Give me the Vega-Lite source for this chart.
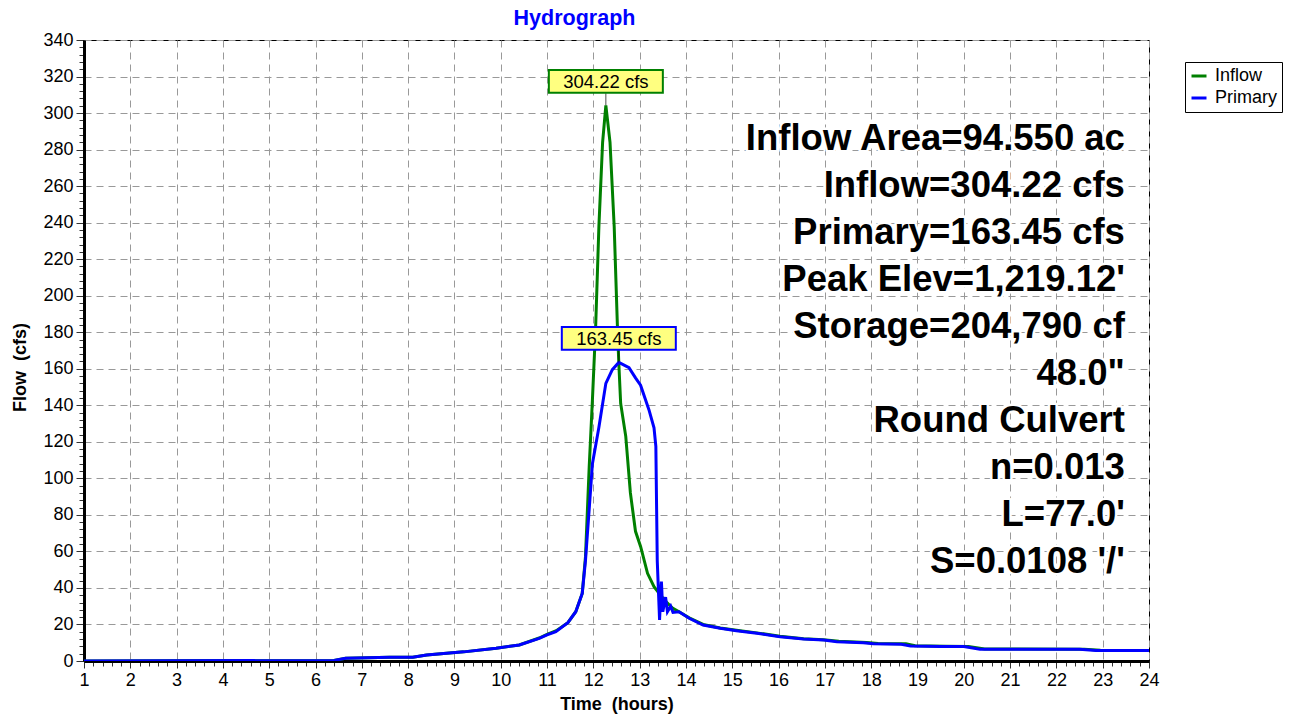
{
  "$schema": "https://vega.github.io/schema/vega-lite/v6.json",
  "width": 1065,
  "height": 621,
  "autosize": {"type": "none"},
  "padding": {"left": 84, "top": 40, "right": 145, "bottom": 58},
  "background": "white",
  "title": {"text": "Hydrograph", "color": "#0000ff", "fontSize": 21.5, "font": "Liberation Sans", "fontWeight": "bold", "anchor": "middle", "frame": "group", "dx": -42, "offset": 2},
  "config": {
    "view": {"stroke": "black", "strokeWidth": 1},
    "axis": {"labelFont": "Liberation Sans", "labelFontSize": 18, "labelColor": "black", "titleFont": "Liberation Sans", "titleFontSize": 18, "titleFontWeight": "bold", "titleColor": "black", "domainColor": "black", "domainWidth": 3, "tickColor": "#333", "tickWidth": 1, "gridColor": "#999", "gridDash": [7, 5], "gridWidth": 1, "tickCount": 1000}
  },
  "datasets": {
    "flows": [
      {"series": "Inflow", "time": 1, "flow": 0},
      {"series": "Inflow", "time": 6.4, "flow": 0.3},
      {"series": "Inflow", "time": 6.65, "flow": 1.5},
      {"series": "Inflow", "time": 7.6, "flow": 2},
      {"series": "Inflow", "time": 8.1, "flow": 2},
      {"series": "Inflow", "time": 8.4, "flow": 3.3},
      {"series": "Inflow", "time": 9.2, "flow": 5},
      {"series": "Inflow", "time": 9.9, "flow": 7},
      {"series": "Inflow", "time": 10.4, "flow": 8.8},
      {"series": "Inflow", "time": 10.83, "flow": 12.6},
      {"series": "Inflow", "time": 11.0, "flow": 14.6},
      {"series": "Inflow", "time": 11.2, "flow": 16.6},
      {"series": "Inflow", "time": 11.45, "flow": 21},
      {"series": "Inflow", "time": 11.62, "flow": 27},
      {"series": "Inflow", "time": 11.76, "flow": 37},
      {"series": "Inflow", "time": 11.83, "flow": 57},
      {"series": "Inflow", "time": 11.91, "flow": 106},
      {"series": "Inflow", "time": 11.98, "flow": 143},
      {"series": "Inflow", "time": 12.05, "flow": 183},
      {"series": "Inflow", "time": 12.12, "flow": 238},
      {"series": "Inflow", "time": 12.2, "flow": 284},
      {"series": "Inflow", "time": 12.27, "flow": 304.22},
      {"series": "Inflow", "time": 12.36, "flow": 284},
      {"series": "Inflow", "time": 12.45, "flow": 238},
      {"series": "Inflow", "time": 12.52, "flow": 183},
      {"series": "Inflow", "time": 12.55, "flow": 163},
      {"series": "Inflow", "time": 12.59, "flow": 141},
      {"series": "Inflow", "time": 12.7, "flow": 123},
      {"series": "Inflow", "time": 12.8, "flow": 92},
      {"series": "Inflow", "time": 12.91, "flow": 71},
      {"series": "Inflow", "time": 13.02, "flow": 62.7},
      {"series": "Inflow", "time": 13.17, "flow": 48},
      {"series": "Inflow", "time": 13.31, "flow": 40.7},
      {"series": "Inflow", "time": 13.42, "flow": 37},
      {"series": "Inflow", "time": 13.55, "flow": 33},
      {"series": "Inflow", "time": 13.71, "flow": 29},
      {"series": "Inflow", "time": 13.85, "flow": 27},
      {"series": "Inflow", "time": 14.07, "flow": 23.6},
      {"series": "Inflow", "time": 14.37, "flow": 20},
      {"series": "Inflow", "time": 14.74, "flow": 18.1},
      {"series": "Inflow", "time": 15.09, "flow": 16.8},
      {"series": "Inflow", "time": 15.53, "flow": 15.4},
      {"series": "Inflow", "time": 16.03, "flow": 13.6},
      {"series": "Inflow", "time": 16.54, "flow": 12.2},
      {"series": "Inflow", "time": 16.97, "flow": 11.7},
      {"series": "Inflow", "time": 17.3, "flow": 10.8},
      {"series": "Inflow", "time": 17.9, "flow": 10.1},
      {"series": "Inflow", "time": 18.15, "flow": 9.6},
      {"series": "Inflow", "time": 18.75, "flow": 9.4},
      {"series": "Inflow", "time": 18.95, "flow": 8.4},
      {"series": "Inflow", "time": 19.6, "flow": 8.1},
      {"series": "Inflow", "time": 20.1, "flow": 8.0},
      {"series": "Inflow", "time": 20.45, "flow": 6.6},
      {"series": "Inflow", "time": 22.6, "flow": 6.5},
      {"series": "Inflow", "time": 22.95, "flow": 5.9},
      {"series": "Inflow", "time": 24, "flow": 5.8},
      {"series": "Primary", "time": 1, "flow": 0},
      {"series": "Primary", "time": 6.4, "flow": 0.3},
      {"series": "Primary", "time": 6.65, "flow": 1.5},
      {"series": "Primary", "time": 7.6, "flow": 2},
      {"series": "Primary", "time": 8.1, "flow": 2},
      {"series": "Primary", "time": 8.4, "flow": 3.3},
      {"series": "Primary", "time": 9.2, "flow": 5},
      {"series": "Primary", "time": 9.9, "flow": 7},
      {"series": "Primary", "time": 10.4, "flow": 8.8},
      {"series": "Primary", "time": 10.83, "flow": 12.4},
      {"series": "Primary", "time": 11.0, "flow": 14.3},
      {"series": "Primary", "time": 11.19, "flow": 16.1},
      {"series": "Primary", "time": 11.45, "flow": 21},
      {"series": "Primary", "time": 11.62, "flow": 27},
      {"series": "Primary", "time": 11.76, "flow": 37},
      {"series": "Primary", "time": 11.83, "flow": 55},
      {"series": "Primary", "time": 11.91, "flow": 83},
      {"series": "Primary", "time": 11.98, "flow": 108},
      {"series": "Primary", "time": 12.12, "flow": 128},
      {"series": "Primary", "time": 12.27, "flow": 152},
      {"series": "Primary", "time": 12.41, "flow": 159.5},
      {"series": "Primary", "time": 12.55, "flow": 163.45},
      {"series": "Primary", "time": 12.77, "flow": 160.6},
      {"series": "Primary", "time": 12.91, "flow": 155},
      {"series": "Primary", "time": 13.02, "flow": 151},
      {"series": "Primary", "time": 13.2, "flow": 137.6},
      {"series": "Primary", "time": 13.31, "flow": 127.7},
      {"series": "Primary", "time": 13.35, "flow": 117.5},
      {"series": "Primary", "time": 13.38, "flow": 55},
      {"series": "Primary", "time": 13.43, "flow": 22.5},
      {"series": "Primary", "time": 13.47, "flow": 43.5},
      {"series": "Primary", "time": 13.5, "flow": 27},
      {"series": "Primary", "time": 13.56, "flow": 35},
      {"series": "Primary", "time": 13.6, "flow": 27},
      {"series": "Primary", "time": 13.67, "flow": 30},
      {"series": "Primary", "time": 13.72, "flow": 26.6},
      {"series": "Primary", "time": 13.85, "flow": 27},
      {"series": "Primary", "time": 14.07, "flow": 23.4},
      {"series": "Primary", "time": 14.37, "flow": 19.7},
      {"series": "Primary", "time": 14.74, "flow": 17.9},
      {"series": "Primary", "time": 15.09, "flow": 16.6},
      {"series": "Primary", "time": 15.53, "flow": 15.2},
      {"series": "Primary", "time": 16.03, "flow": 13.3},
      {"series": "Primary", "time": 16.54, "flow": 12},
      {"series": "Primary", "time": 16.97, "flow": 11.5},
      {"series": "Primary", "time": 17.26, "flow": 10.6},
      {"series": "Primary", "time": 17.83, "flow": 10},
      {"series": "Primary", "time": 18.05, "flow": 9.4},
      {"series": "Primary", "time": 18.65, "flow": 9.2},
      {"series": "Primary", "time": 18.85, "flow": 8.2},
      {"series": "Primary", "time": 19.5, "flow": 8},
      {"series": "Primary", "time": 20.0, "flow": 7.9},
      {"series": "Primary", "time": 20.35, "flow": 6.4},
      {"series": "Primary", "time": 22.5, "flow": 6.4},
      {"series": "Primary", "time": 22.85, "flow": 5.8},
      {"series": "Primary", "time": 24, "flow": 5.8}
    ],
    "peaks": [
      {"series": "Inflow", "time": 12.27, "flow": 304.22, "label": "304.22 cfs"},
      {"series": "Primary", "time": 12.55, "flow": 163.45, "label": "163.45 cfs"}
    ]
  },
  "layer": [
    {
      "data": {"name": "flows"},
      "mark": {"type": "line", "strokeWidth": 3, "clip": true},
      "encoding": {
        "x": {
          "field": "time", "type": "quantitative",
          "scale": {"domain": [1, 24], "nice": false, "zero": false},
          "axis": {
            "title": "Time\u00a0 (hours)",
            "titlePadding": 6,
            "tickCount": 1000,
            "values": [1,1.2,1.4,1.6,1.8,2,2.2,2.4,2.6,2.8,3,3.2,3.4,3.6,3.8,4,4.2,4.4,4.6,4.8,5,5.2,5.4,5.6,5.8,6,6.2,6.4,6.6,6.8,7,7.2,7.4,7.6,7.8,8,8.2,8.4,8.6,8.8,9,9.2,9.4,9.6,9.8,10,10.2,10.4,10.6,10.8,11,11.2,11.4,11.6,11.8,12,12.2,12.4,12.6,12.8,13,13.2,13.4,13.6,13.8,14,14.2,14.4,14.6,14.8,15,15.2,15.4,15.6,15.8,16,16.2,16.4,16.6,16.8,17,17.2,17.4,17.6,17.8,18,18.2,18.4,18.6,18.8,19,19.2,19.4,19.6,19.8,20,20.2,20.4,20.6,20.8,21,21.2,21.4,21.6,21.8,22,22.2,22.4,22.6,22.8,23,23.2,23.4,23.6,23.8,24],
            "labelExpr": "abs(datum.value - round(datum.value)) < 0.01 ? '' + round(datum.value) : ''",
            "labelOverlap": false,
            "labelBound": false,
            "labelFlush": false,
            "labelPadding": 3,
            "tickSize": {"condition": {"test": "abs(datum.value - round(datum.value)) < 0.01", "value": 7}, "value": 5},
            "gridOpacity": {"condition": {"test": "abs(datum.value - round(datum.value)) < 0.01", "value": 1}, "value": 0}
          }
        },
        "y": {
          "field": "flow", "type": "quantitative",
          "scale": {"domain": [0, 340], "nice": false},
          "axis": {
            "title": "Flow\u00a0 (cfs)",
            "titlePadding": 13,
            "titleY": 327,
            "tickCount": 1000,
            "values": [0,4,8,12,16,20,24,28,32,36,40,44,48,52,56,60,64,68,72,76,80,84,88,92,96,100,104,108,112,116,120,124,128,132,136,140,144,148,152,156,160,164,168,172,176,180,184,188,192,196,200,204,208,212,216,220,224,228,232,236,240,244,248,252,256,260,264,268,272,276,280,284,288,292,296,300,304,308,312,316,320,324,328,332,336,340],
            "labelExpr": "datum.value % 20 === 0 ? '' + datum.value : ''",
            "labelOverlap": false,
            "labelBound": false,
            "labelFlush": false,
            "labelPadding": 3,
            "tickSize": {"condition": {"test": "datum.value % 20 === 0", "value": 8}, "value": 5},
            "gridOpacity": {"condition": {"test": "datum.value % 20 === 0", "value": 1}, "value": 0}
          }
        },
        "color": {
          "field": "series", "type": "nominal",
          "scale": {"domain": ["Inflow", "Primary"], "range": ["#008000", "#0000ff"]},
          "legend": {"orient": "none", "legendX": 1101, "legendY": 22, "title": null, "symbolType": "stroke", "symbolStrokeWidth": 3, "symbolSize": 225, "labelFont": "Liberation Sans", "labelFontSize": 18, "labelColor": "black", "strokeColor": "black", "fillColor": "white", "padding": 5, "rowPadding": 4, "labelOffset": 7}
        }
      }
    },
    {
      "data": {"name": "peaks"},
      "mark": {"type": "tick", "orient": "vertical", "size": 12, "thickness": 1, "color": "black", "yOffset": -6},
      "encoding": {
        "x": {"field": "time", "type": "quantitative"},
        "y": {"field": "flow", "type": "quantitative"}
      }
    },
    {
      "data": {"name": "peaks"},
      "mark": {"type": "point", "shape": "M-1,-0.2L1,-0.2L1,0.2L-1,0.2Z", "size": 12996, "filled": true, "fill": "#ffff80", "fillOpacity": 1, "opacity": 1, "strokeWidth": 2, "strokeOpacity": 1, "yOffset": -24},
      "encoding": {
        "x": {"field": "time", "type": "quantitative"},
        "y": {"field": "flow", "type": "quantitative"},
        "stroke": {"field": "series", "type": "nominal", "scale": {"domain": ["Inflow", "Primary"], "range": ["#008000", "#0000ff"]}, "legend": null}
      }
    },
    {
      "data": {"name": "peaks"},
      "mark": {"type": "text", "font": "Liberation Sans", "fontSize": 18.5, "color": "black", "align": "center", "baseline": "middle", "yOffset": -23},
      "encoding": {
        "x": {"field": "time", "type": "quantitative"},
        "y": {"field": "flow", "type": "quantitative"},
        "text": {"field": "label"}
      }
    },
    {
      "data": {"values": [{}]},
      "mark": {"type": "text", "font": "Liberation Sans", "fontSize": 36.5, "fontWeight": "bold", "align": "right", "baseline": "alphabetic", "lineHeight": 47, "fill": "white", "stroke": "white", "strokeWidth": 5, "strokeJoin": "round",
        "text": ["Inflow Area=94.550 ac", "Inflow=304.22 cfs", "Primary=163.45 cfs", "Peak Elev=1,219.12'", "Storage=204,790 cf", "48.0\"", "Round Culvert", "n=0.013", "L=77.0'", "S=0.0108 '/'"]},
      "encoding": {
        "x": {"datum": 23.48, "type": "quantitative"},
        "y": {"datum": 279.8, "type": "quantitative"}
      }
    },
    {
      "data": {"values": [{}]},
      "mark": {"type": "text", "font": "Liberation Sans", "fontSize": 36.5, "fontWeight": "bold", "align": "right", "baseline": "alphabetic", "lineHeight": 47, "fill": "black",
        "text": ["Inflow Area=94.550 ac", "Inflow=304.22 cfs", "Primary=163.45 cfs", "Peak Elev=1,219.12'", "Storage=204,790 cf", "48.0\"", "Round Culvert", "n=0.013", "L=77.0'", "S=0.0108 '/'"]},
      "encoding": {
        "x": {"datum": 23.48, "type": "quantitative"},
        "y": {"datum": 279.8, "type": "quantitative"}
      }
    }
  ]
}
